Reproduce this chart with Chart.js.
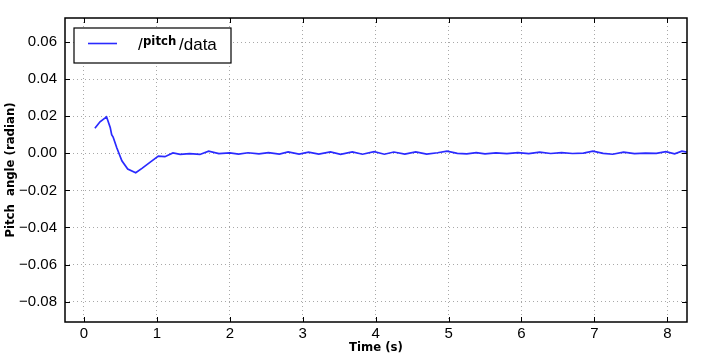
<!DOCTYPE html>
<html>
<head>
<meta charset="utf-8">
<script src="https://cdn.jsdelivr.net/npm/chart.js@4"></script>
<style>
  html, body { margin: 0; padding: 0; background: #fff; }
  #wrap { width: 705px; height: 359px; position: relative; }
</style>
</head>
<body>
<div id="wrap"><canvas id="pitchChart"></canvas></div>
<script>
// pitch angle samples
const timeS = [0.15, 0.22, 0.31, 0.36, 0.38, 0.40, 0.45, 0.52, 0.60, 0.71, 0.80, 0.90, 1.02, 1.11, 1.22, 1.32, 1.45, 1.59, 1.71,
  1.85, 2.00, 2.12, 2.25, 2.40, 2.53, 2.68, 2.80, 2.95, 3.08, 3.22, 3.38, 3.52, 3.68, 3.82, 3.98, 4.12, 4.25, 4.40, 4.55,
  4.70, 4.85, 4.98, 5.12, 5.25, 5.38, 5.50, 5.65, 5.80, 5.95, 6.10, 6.25, 6.40, 6.55, 6.70, 6.85, 6.98, 7.12, 7.25, 7.40,
  7.55, 7.70, 7.85, 7.98, 8.10, 8.20, 8.27];
const pitchRad = [0.0135, 0.0170, 0.0197, 0.0140, 0.0100, 0.0088, 0.0030, -0.0040, -0.0085, -0.0105, -0.0080, -0.0050, -0.0015, -0.0018, 0.0002, -0.0006, -0.0002, -0.0006, 0.0012,
  -0.0002, 0.0002, -0.0004, 0.0003, -0.0003, 0.0004, -0.0004, 0.0008, -0.0004, 0.0006, -0.0004, 0.0008, -0.0006, 0.0008, -0.0005, 0.0009, -0.0005, 0.0007, -0.0004, 0.0008,
  -0.0004, 0.0003, 0.0012, 0.0000, -0.0003, 0.0004, -0.0003, 0.0002, -0.0002, 0.0004, -0.0002, 0.0006, -0.0001, 0.0004, -0.0001, 0.0001, 0.0012, 0.0000, -0.0005, 0.0006,
  -0.0002, 0.0001, 0.0000, 0.0009, -0.0003, 0.0012, 0.0006];

const xTicks = [0, 1, 2, 3, 4, 5, 6, 7, 8];
const yTicks = [-0.08, -0.06, -0.04, -0.02, 0.00, 0.02, 0.04, 0.06];

const points = timeS.map((t, i) => ({ x: t, y: pitchRad[i] }));

// frame, inward tick marks and the legend box
const framePlugin = {
    id: 'frame',
    afterDraw(chart) {
        const { ctx, chartArea: a, scales } = chart;
        ctx.save();
        ctx.strokeStyle = '#000';
        ctx.lineWidth = 1;
        xTicks.forEach(v => {
            const px = Math.round(scales.x.getPixelForValue(v)) + 0.5;
            ctx.beginPath();
            ctx.moveTo(px, a.bottom); ctx.lineTo(px, a.bottom - 5);
            ctx.moveTo(px, a.top); ctx.lineTo(px, a.top + 5);
            ctx.stroke();
        });
        yTicks.forEach(v => {
            const py = Math.round(scales.y.getPixelForValue(v)) + 0.5;
            ctx.beginPath();
            ctx.moveTo(a.left, py); ctx.lineTo(a.left + 5, py);
            ctx.moveTo(a.right, py); ctx.lineTo(a.right - 5, py);
            ctx.stroke();
        });
        ctx.lineWidth = 1.5;
        ctx.strokeRect(a.left, a.top, a.right - a.left, a.bottom - a.top);

        // legend
        const lx = a.left + 9, ly = a.top + 10;
        ctx.fillStyle = '#fff';
        ctx.fillRect(lx, ly, 157, 35);
        ctx.lineWidth = 1.2;
        ctx.strokeRect(lx, ly, 157, 35);
        ctx.strokeStyle = '#2a2aff';
        ctx.lineWidth = 1.6;
        ctx.beginPath();
        ctx.moveTo(lx + 14, ly + 15.5); ctx.lineTo(lx + 43, ly + 15.5);
        ctx.stroke();
        ctx.fillStyle = '#000';
        ctx.textBaseline = 'alphabetic';
        ctx.font = '17px "Liberation Sans"';
        ctx.fillText('/', lx + 64, ly + 22);
        ctx.font = 'bold 13px "DejaVu Sans Condensed"';
        ctx.fillText('pitch', lx + 69, ly + 17);
        ctx.font = '17px "Liberation Sans"';
        ctx.fillText('/data', lx + 105, ly + 22);
        ctx.restore();
    }
};

const gridStyle = {
    color: '#a8a8a8',
    lineWidth: 1,
    drawTicks: false
};

new Chart(document.getElementById('pitchChart'), {
    type: 'line',
    data: {
        datasets: [{
            label: '/pitch/data',
            data: points,
            borderColor: '#2a2aff',
            borderWidth: 1.7,
            pointRadius: 0,
            tension: 0,
            fill: false
        }]
    },
    options: {
        responsive: true,
        maintainAspectRatio: false,
        animation: false,
        layout: { padding: { left: 0, right: 18, top: 18, bottom: 0 } },
        plugins: { legend: { display: false }, tooltip: { enabled: false } },
        scales: {
            x: {
                type: 'linear',
                min: -0.26,
                max: 8.27,
                afterBuildTicks: s => { s.ticks = xTicks.map(v => ({ value: v })); },
                afterFit: s => { s.height = 37; },
                grid: { ...gridStyle },
                border: { display: false, dash: [1, 3] },
                ticks: {
                    padding: 3,
                    color: '#000',
                    font: { family: 'Liberation Sans', size: 15 },
                    maxRotation: 0,
                    callback: v => String(v)
                },
                title: {
                    display: true,
                    text: 'Time (s)',
                    color: '#000',
                    font: { family: 'DejaVu Sans Condensed', size: 13, weight: 'bold' },
                    padding: { top: 0, bottom: 4 }
                }
            },
            y: {
                min: -0.091,
                max: 0.073,
                afterBuildTicks: s => { s.ticks = yTicks.map(v => ({ value: v })); },
                afterFit: s => { s.width = 65; },
                grid: { ...gridStyle },
                border: { display: false, dash: [1, 3] },
                ticks: {
                    padding: 8,
                    color: '#000',
                    font: { family: 'Liberation Sans', size: 15 },
                    callback: v => v.toFixed(2).replace('-', '\u2212')
                },
                title: {
                    display: true,
                    text: 'Pitch  angle (radian)',
                    color: '#000',
                    font: { family: 'DejaVu Sans Condensed', size: 13, weight: 'bold' },
                    padding: { top: 3, bottom: 0 }
                }
            }
        }
    },
    plugins: [framePlugin]
});
</script>
</body>
</html>
